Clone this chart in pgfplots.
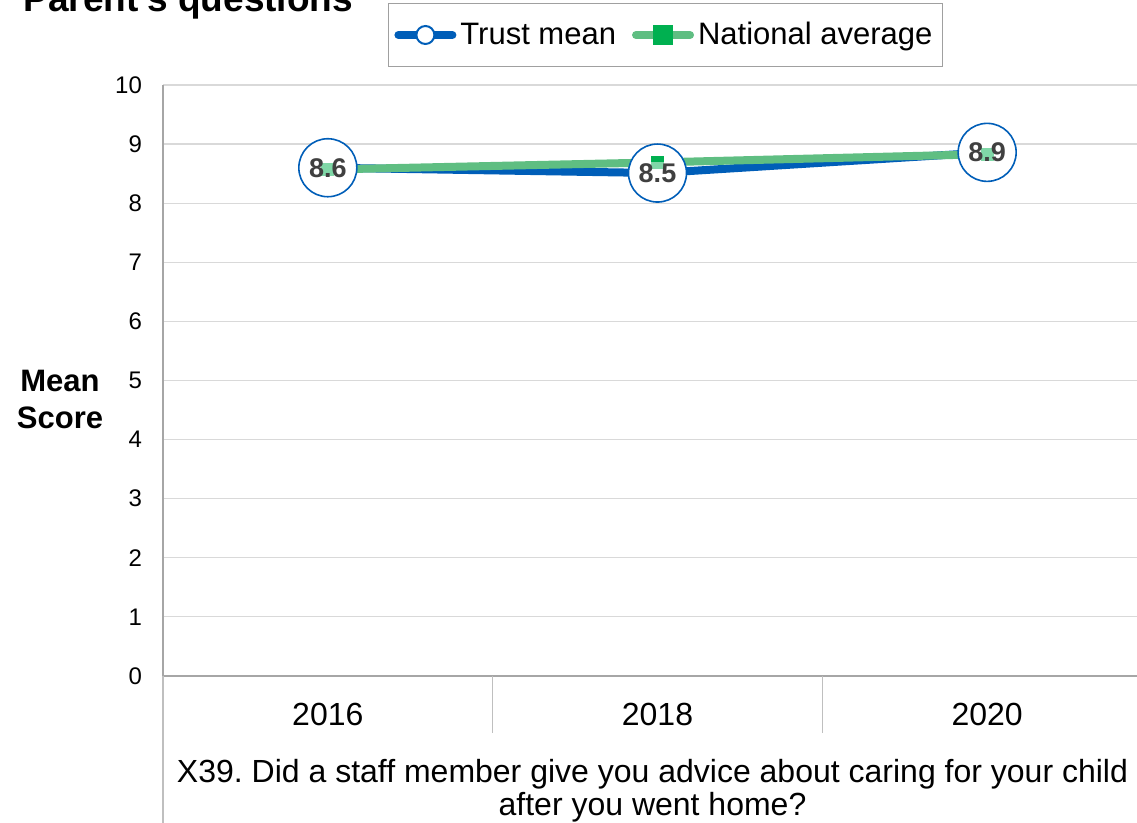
\documentclass[border=0pt]{standalone}
\usepackage{fontspec}
\setmainfont{Liberation Sans}
\usepackage{pgfplots}
\pgfplotsset{compat=1.18}
\definecolor{trustblue}{RGB}{0,94,184}
\definecolor{natgreen}{RGB}{95,190,130}
\definecolor{natmark}{RGB}{0,176,80}
\definecolor{gridgray}{RGB}{217,217,217}
\definecolor{axisgray}{RGB}{166,166,166}
\definecolor{sepgray}{RGB}{191,191,191}
\definecolor{labelgray}{RGB}{64,64,64}
\definecolor{legendgray}{RGB}{160,160,160}
\frenchspacing
\begin{document}
\begin{tikzpicture}
\useasboundingbox (0,0) rectangle (568.5pt,411.5pt);
\node[anchor=base west, font=\bfseries\fontsize{18.5}{20}\selectfont, inner sep=0pt] at (11.5pt,405.5pt) {Parent's questions};
\node[align=center, font=\bfseries\fontsize{15.5}{18.5}\selectfont] at (30pt,211.5pt) {Mean\\Score};
\begin{axis}[
  at={(81.5pt,73.5pt)}, anchor=south west,
  scale only axis, width=494.5pt, height=295.5pt,
  xmin=-0.5, xmax=2.5, ymin=0, ymax=10,
  xtick={0,1,2}, xticklabels={2016,2018,2020},
  ytick={0,1,...,10},
  axis lines*=left,
  axis line style={draw=axisgray, line width=0.6pt},
  major tick length=0pt,
  ymajorgrids, grid style={draw=gridgray, line width=0.6pt},
  /pgf/number format/assume math mode=true,
  yticklabel style={font=\fontsize{12}{14}\selectfont, xshift=-7pt},
  xticklabel style={font=\fontsize{16}{18}\selectfont, anchor=center, yshift=-19pt},
  legend columns=2,
  legend style={at={(0.508,1.0846)}, anchor=center, draw=legendgray, line width=0.6pt,
    font=\fontsize{15.5}{18}\selectfont, inner xsep=3pt, inner ysep=7.5pt,
    /tikz/every even column/.append style={column sep=6pt}},
  clip=false,
]
\addplot[color=trustblue, line width=4pt, mark=*, mark size=14.5pt,
  mark options={fill=white, draw=trustblue, line width=0.8pt},
  legend image code/.code={
    \draw[line width=4pt, color=trustblue, line cap=round] (0pt,0pt) -- (27pt,0pt);
    \draw[fill=white, draw=trustblue, line width=1pt] (13.5pt,0pt) circle (4.5pt);
  }] coordinates {(0,8.60) (1,8.51) (2,8.86)};
\addlegendentry{Trust mean}
\addplot[color=natgreen, line width=4pt, mark=square*, mark size=3pt,
  mark options={fill=natmark, draw=natmark, line width=0pt},
  legend image code/.code={
    \draw[line width=4pt, color=natgreen, line cap=round] (0pt,0pt) -- (27pt,0pt);
    \fill[natmark] (10.5pt,-3pt) rectangle (16.5pt,3pt);
  }] coordinates {(0,8.57) (1,8.69) (2,8.83)};
\addlegendentry{National average}
\addplot[draw=none, mark=none, forget plot, point meta=y,
  nodes near coords={\pgfmathprintnumber[fixed,fixed zerofill,precision=1]{\pgfplotspointmeta}},
  every node near coord/.style={anchor=center, font=\bfseries\fontsize{13.5}{15}\selectfont,
    text=labelgray, fill=white, fill opacity=0.5, text opacity=1, inner sep=0.5pt}]
  coordinates {(0,8.60) (1,8.51) (2,8.86)};
\draw[sepgray, line width=0.6pt] (axis cs:-0.5,0) -- ++(0pt,-73.5pt);
\draw[sepgray, line width=0.6pt] (axis cs:0.5,0) -- ++(0pt,-28.5pt);
\draw[sepgray, line width=0.6pt] (axis cs:1.5,0) -- ++(0pt,-28.5pt);
\draw[sepgray, line width=0.6pt] (axis cs:2.5,0) -- ++(0pt,-28.5pt);
\node[align=center, font=\fontsize{16}{16.5}\selectfont, xshift=-2.5pt, yshift=-57.5pt] at (axis cs:1,0)
  {X39. Did a staff member give you advice about caring for your child\\after you went home?};
\end{axis}
\end{tikzpicture}
\end{document}
